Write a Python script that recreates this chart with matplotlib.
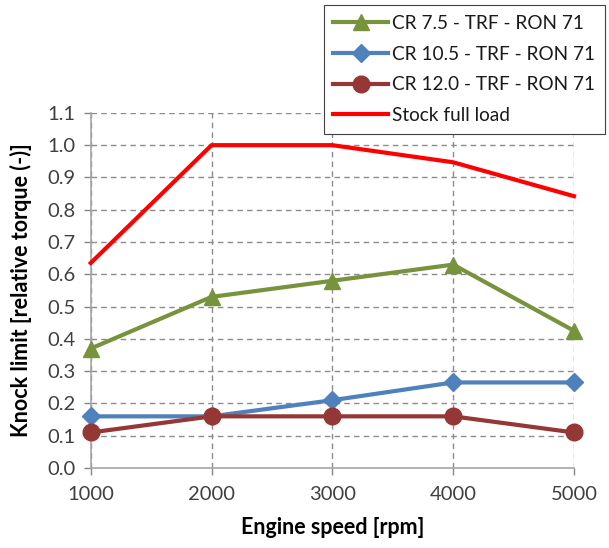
import matplotlib
matplotlib.use("Agg")
import matplotlib.pyplot as plt

plt.rcParams['font.family'] = ['Lato', 'DejaVu Sans']

speeds = [1000, 2000, 3000, 4000, 5000]
cr75 = [0.37, 0.53, 0.58, 0.63, 0.425]
cr105 = [0.16, 0.16, 0.21, 0.265, 0.265]
cr120 = [0.11, 0.16, 0.16, 0.16, 0.11]
stock = [0.635, 1.0, 1.0, 0.947, 0.842]
labels = ["CR 7.5 - TRF - RON 71", "CR 10.5 - TRF - RON 71",
          "CR 12.0 - TRF - RON 71", "Stock full load"]
yticks = [0.0, 0.1, 0.2, 0.3, 0.4, 0.5, 0.6, 0.7, 0.8, 0.9, 1.0, 1.1]

fig = plt.figure(figsize=(6.09, 5.48), dpi=100)
ax = fig.add_axes([0.149, 0.146, 0.7935, 0.648])

lw = 3
h1, = ax.plot(speeds, cr75, color='#77933C', lw=lw, marker='^', ms=12, zorder=3)
h2, = ax.plot(speeds, cr105, color='#4F81BD', lw=lw, marker='D', ms=9, zorder=3)
h3, = ax.plot(speeds, cr120, color='#953735', lw=lw, marker='o', ms=12, zorder=3)
h4, = ax.plot(speeds, stock, color='#FF0000', lw=lw, zorder=3)

ax.set_xlim(1000, 5000)
ax.set_ylim(0, 1.1)
ax.set_xticks(speeds)
ax.set_yticks(yticks)
ax.set_yticklabels([f"{v:.1f}" for v in yticks])
ax.tick_params(axis='both', labelsize=14.5, colors='#868686', labelcolor='#404040',
               length=5, width=1)
ax.tick_params(axis='x', pad=8)
ax.tick_params(axis='y', pad=6)

ax.grid(True, color='#8C8C8C', linestyle=(0, (4, 3)), linewidth=1)
ax.set_axisbelow(True)
for s in ['top', 'right']:
    ax.spines[s].set_visible(False)
for s in ['left', 'bottom']:
    ax.spines[s].set_color('#A6A6A6')
    ax.spines[s].set_linewidth(1.2)
for m in [h1, h2, h3, h4]:
    m.set_clip_on(False)

ax.set_xlabel("Engine speed [rpm]", fontsize=15.5, fontweight='bold', labelpad=10)
ax.set_ylabel("Knock limit [relative torque (-)]", fontsize=15.5, fontweight='bold', labelpad=11)

leg = fig.legend([h1, h2, h3, h4], labels, loc='upper right',
                 bbox_to_anchor=(0.993, 0.99), fontsize=13.7, frameon=True,
                 fancybox=False, edgecolor='#404040', framealpha=1,
                 handlelength=2.9, handletextpad=0.2, labelspacing=0.72,
                 borderpad=0.5, borderaxespad=0)
leg.get_frame().set_linewidth(0.8)
for t in leg.get_texts():
    t.set_color('#1a1a1a')

fig.savefig("out.png", dpi=100)
